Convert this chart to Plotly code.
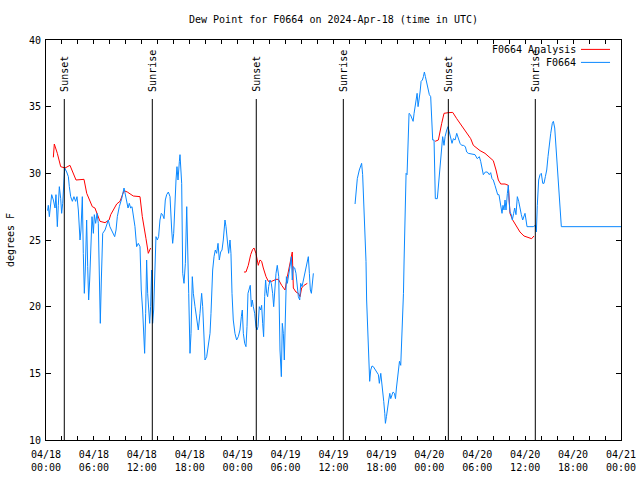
import pandas as pd
import plotly.graph_objects as go

BASE = "2024-04-18 00:00"

# Observed dew point (F0664), hours since 2024-04-18 00:00 UTC; None marks a data gap
obs_hours = [
    0.2, 0.29, 0.42, 0.71, 0.92, 1.13, 1.25, 1.42, 1.54, 1.67, 1.84, 1.96, 2.09, 2.21, 2.34, 2.59, 2.8, 2.92,
    3.09, 3.3, 3.5, 3.71, 3.88, 4.05, 4.26, 4.38, 4.55, 4.67, 4.8, 4.92, 5.09, 5.22, 5.34, 5.47, 5.6, 5.76,
    5.93, 6.05, 6.22, 6.39, 6.55, 6.68, 6.8, 6.93, 7.1, 7.39, 7.6, 7.8, 8.0, 8.23, 8.43, 8.6, 8.77, 8.93,
    9.18, 9.48, 9.77, 9.93, 10.1, 10.27, 10.43, 10.6, 10.77, 10.93, 11.14, 11.35, 11.56, 11.77, 11.93, 12.1,
    12.23, 12.35, 12.48, 12.6, 12.73, 12.85, 12.98, 13.1, 13.23, 13.35, 13.48, 13.6, 13.77, 13.94, 14.1,
    14.27, 14.44, 14.6, 14.78, 14.94, 15.11, 15.32, 15.53, 15.74, 15.86, 15.99, 16.11, 16.28, 16.4, 16.53,
    16.7, 16.78, 16.99, 17.12, 17.28, 17.45, 17.62, 17.74, 17.87, 18.03, 18.16, 18.32, 18.45, 18.66, 18.87,
    19.07, 19.28, 19.49, 19.62, 19.75, 19.91, 20.12, 20.33, 20.54, 20.66, 20.79, 20.87, 21.04, 21.2, 21.37,
    21.54, 21.7, 21.87, 22.04, 22.2, 22.41, 22.54, 22.7, 22.87, 23.04, 23.16, 23.29, 23.45, 23.66, 23.87,
    24.08, 24.29, 24.46, 24.58, 24.71, 24.88, 25.04, 25.17, 25.29, 25.46, 25.58, 25.71, 25.83, 25.96, 26.13,
    26.29, 26.42, 26.55, 26.71, 26.88, 27.0, 27.13, 27.25, 27.38, 27.5, 27.63, 27.75, 27.88, 28.05, 28.21,
    28.38, 28.51, 28.63, 28.8, 28.96, 29.14, 29.3, 29.47, 29.59, 29.72, 29.84, 29.97, 30.1, 30.22, 30.39,
    30.55, 30.72, 30.84, 30.97, 31.14, 31.3, 31.43, 31.6, 31.77, 31.89, 32.06, 32.22, 32.39, 32.56, 32.72,
    32.85, 32.98, 33.1, 33.23, 33.35, 33.48,
    36.0,
    38.7, 38.82, 38.98, 39.23, 39.4, 39.52, 39.65, 39.81, 39.94, 40.07, 40.15, 40.28, 40.4, 40.53, 40.66,
    40.82, 40.99, 41.2, 41.41, 41.62, 41.74, 41.92, 42.04, 42.17, 42.29, 42.42, 42.5, 42.63, 42.75, 42.92,
    43.05, 43.17, 43.34, 43.46, 43.63, 43.76, 43.88, 44.01, 44.13, 44.26, 44.42, 44.55, 44.67, 44.76, 44.84,
    44.96, 45.09, 45.21, 45.34, 45.46, 45.63, 45.8, 45.97, 46.09, 46.22, 46.34, 46.47, 46.59, 46.72, 46.84,
    46.97, 47.13, 47.26, 47.38, 47.51, 47.63, 47.76, 47.88, 48.0, 48.17, 48.3, 48.42, 48.59, 48.67, 48.75,
    49.0, 49.13, 49.34, 49.55, 49.67, 49.84, 49.97, 50.18, 50.34, 50.5, 50.68, 50.84, 51.01, 51.22, 51.43,
    51.63, 51.84, 52.05, 52.26, 52.51, 52.68, 52.88, 53.3, 53.72, 54.0, 54.26, 54.43, 54.6, 54.76, 55.01,
    55.26, 55.51, 55.68, 55.85, 56.01, 56.22, 56.43, 56.56, 56.72, 56.85, 57.01, 57.1, 57.22, 57.35, 57.48,
    57.6, 57.77, 57.89, 57.98, 58.1, 58.27, 58.39, 58.56, 58.69, 58.85, 59.02, 59.19, 59.35, 59.52, 59.69,
    59.85, 59.98, 60.11, 60.23, 60.6, 61.02, 61.27, 61.4, 61.52, 61.69, 61.86, 62.02, 62.2, 62.36, 62.53,
    62.7, 62.86, 63.03, 63.2, 63.4, 63.53, 63.7, 63.87, 64.03, 64.2, 64.37, 64.53, 72.0,
]
obs_dewpt = [
    27.2, 27.6, 26.75, 28.4, 28.0, 27.4, 28.4, 26.0, 27.6, 29.0, 28.1, 27.0, 27.75, 29.6, 30.4, 30.1, 29.75, 29.0,
    28.25, 27.9, 28.25, 27.9, 28.25, 27.25, 25.0, 25.75, 28.25, 24.0, 21.0, 22.75, 26.5, 23.0, 20.5, 22.0, 24.5, 26.75,
    25.5, 26.9, 26.25, 27.0, 26.25, 21.0, 18.75, 22.0, 25.5, 25.75, 26.25, 26.5, 26.0, 25.75, 25.5, 25.25, 25.75, 26.75,
    27.5, 28.1, 28.9, 28.4, 28.0, 27.4, 27.75, 27.4, 27.5, 26.9, 26.0, 24.5, 24.75, 24.5, 21.25, 19.75,
    17.5, 16.5, 19.5, 23.5, 21.0, 20.0, 18.75, 20.0, 22.75, 18.75, 19.75, 22.0, 25.25, 25.0, 25.25,
    26.5, 27.0, 26.9, 26.6, 28.0, 28.4, 28.6, 28.25, 25.75, 24.75, 25.5, 27.5, 29.5, 30.5, 29.5,
    30.9, 31.4, 29.25, 22.5, 21.75, 23.25, 27.5, 25.0, 21.0, 16.5, 18.0, 22.25, 21.0, 20.0, 19.0,
    18.25, 19.5, 21.0, 20.0, 17.5, 16.0, 16.25, 17.0, 18.0, 19.5, 21.25, 22.75, 23.75, 24.25, 24.0,
    24.75, 23.5, 24.1, 24.25, 25.0, 26.5, 26.0, 25.0, 24.0, 25.0, 24.0, 21.0, 19.0, 18.0, 17.5,
    17.75, 18.25, 19.25, 19.75, 18.0, 17.25, 17.0, 18.5, 21.0, 21.5, 21.6, 20.0, 20.5, 20.0, 19.5,
    18.5, 18.25, 18.5, 20.0, 19.75, 20.1, 18.75, 17.75, 20.75, 22.0, 21.0, 20.75, 21.5, 22.0, 21.75,
    21.0, 20.0, 21.5, 22.5, 23.1, 22.25, 16.75, 14.75, 18.75, 18.0, 16.0, 20.75, 22.25, 21.75, 22.25,
    23.0, 23.75, 22.0, 23.0, 22.9, 22.5, 21.5, 20.75, 20.5, 21.75, 21.5, 22.0, 22.5, 23.0, 23.5,
    23.75, 22.5, 21.25, 21.0, 22.0, 22.5,
    None,
    27.7, 28.9, 29.6, 30.25, 30.6, 30.75, 29.9, 27.75, 25.75, 23.4, 20.5, 17.75, 15.5, 14.4, 15.25,
    15.55, 15.5, 15.25, 15.1, 14.9, 14.25, 15.0, 14.1, 13.75, 12.9, 12.0, 11.25, 11.75, 12.4, 13.0,
    13.5, 13.1, 13.4, 13.6, 13.5, 13.1, 13.9, 14.75, 15.5, 15.9, 15.6, 17.25, 19.0, 21.0, 23.5,
    27.0, 30.0, 29.9, 31.75, 34.5, 34.4, 34.1, 33.9, 34.5, 35.0, 35.6, 36.0, 35.0, 35.5, 36.1,
    36.9, 37.0, 37.25, 37.6, 37.25, 36.9, 36.5, 36.1, 35.9, 35.75, 34.5, 32.5, 32.5, 29.0, 28.1,
    28.1, 28.9, 30.75, 32.0, 32.75, 32.1, 32.75, 33.25, 33.5, 33.1, 32.6, 32.25, 32.6, 32.5, 33.0,
    32.6, 32.25, 32.1, 32.1, 32.0, 31.6, 31.5, 31.45, 31.4, 31.1, 31.25, 30.9, 30.25, 29.9, 30.1,
    30.1, 29.9, 30.05, 29.6, 29.5, 29.1, 28.75, 28.4, 28.4, 27.9, 27.25, 27.0, 27.6, 27.25, 28.0,
    27.25, 28.5, 29.1, 28.0, 27.1, 26.9, 26.5, 27.0, 27.4, 26.9, 28.25, 27.9, 27.25, 26.9, 26.5,
    26.75, 27.0, 26.5, 26.0, 26.0, 26.0, 26.1, 25.6, 27.6, 29.5, 29.9, 30.0, 29.25, 29.25, 29.75,
    30.25, 31.25, 32.4, 33.0, 33.75, 33.9, 33.4, 31.75, 30.5, 28.5, 27.0, 26.0, 26.0,
]

# Analysis dew point (F0664 Analysis); None marks a data gap
ana_hours = [
    0.92, 1.04, 1.42, 1.84, 2.38, 3.0, 3.76, 4.47, 4.76, 5.1, 5.8, 6.13, 6.76, 7.39, 7.9, 8.1, 8.85, 9.27,
    9.77, 10.18, 10.93, 11.77, 12.06, 12.52, 12.81, 13.1,
    19.0,
    24.79, 25.04, 25.33, 25.63, 25.88, 26.05, 26.29, 26.58, 26.79, 27.0, 27.21, 27.55, 27.84, 28.26, 28.8,
    29.1, 29.51, 29.93, 30.22, 30.47, 30.64, 30.84, 30.97, 31.3, 31.6, 31.81, 32.01, 32.31, 32.72,
    40.0,
    48.72, 49.13, 49.55, 49.84, 50.38, 50.93, 51.43, 51.84, 52.26, 52.8, 53.18, 53.51, 53.93, 54.35, 54.97,
    55.51, 56.01, 56.35, 56.64, 56.94, 57.48, 57.89, 57.98, 58.1, 58.44, 58.85, 59.35, 59.85, 60.39, 60.81, 61.1,
]
ana_dewpt = [
    31.2, 32.2, 31.5, 30.5, 30.4, 30.6, 29.5, 29.55, 29.55, 28.5, 27.5, 27.4, 26.4, 26.3, 26.5, 26.9, 27.7, 27.9,
    28.7, 28.6, 28.3, 28.25, 26.75, 25.1, 24.0, 24.4,
    None,
    22.6, 22.6, 23.1, 23.9, 24.3, 24.4, 24.0, 23.1, 23.5, 23.4, 22.9, 22.25, 21.9, 21.9, 22.05,
    22.05, 21.6, 21.25, 22.25, 22.9, 23.5, 24.1, 21.4, 21.1, 21.0, 20.75, 21.4, 21.6, 21.75,
    None,
    32.4, 32.5, 33.75, 34.5, 34.55, 34.57, 34.1, 33.75, 33.4, 33.0, 32.6, 32.1, 31.9, 31.7, 31.5,
    31.25, 30.95, 30.25, 29.5, 29.2, 29.2, 29.1, 28.4, 27.0, 26.5, 26.05, 25.6, 25.3, 25.2, 25.1, 25.3,
]

sun_hours = [2.29, 13.31, 26.33, 37.23, 50.38, 61.27]
sun_labels = ["Sunset", "Sunrise", "Sunset", "Sunrise", "Sunset", "Sunrise"]

legend_names = ["F0664 Analysis", "F0664"]
RED = "#ff0000"
BLUE = "#0a88ff"


def to_time(hours):
    return [(pd.Timestamp(BASE) + pd.Timedelta(hours=h)).strftime("%Y-%m-%d %H:%M:%S") for h in hours]


fig = go.Figure()
fig.add_trace(go.Scatter(x=to_time(ana_hours), y=ana_dewpt, mode="lines",
                         line=dict(color=RED, width=1), name=legend_names[0],
                         connectgaps=False, showlegend=False))
fig.add_trace(go.Scatter(x=to_time(obs_hours), y=obs_dewpt, mode="lines",
                         line=dict(color=BLUE, width=1), name=legend_names[1],
                         connectgaps=False, showlegend=False))

sun_times = to_time(sun_hours)
for t, lab in zip(sun_times, sun_labels):
    fig.add_shape(type="line", xref="x", yref="paper", x0=t, x1=t, y0=0, y1=0.8525,
                  line=dict(color="black", width=1))
    fig.add_annotation(x=t, xref="x", y=0.866, yref="paper", text=lab, textangle=-90,
                       showarrow=False, xanchor="center", yanchor="bottom",
                       font=dict(size=10, color="black"))

# gnuplot-style key: text right-aligned, line sample to its right
for i, (name, col) in enumerate(zip(legend_names, [RED, BLUE])):
    yk = 0.9765 - i * 0.0325
    fig.add_annotation(x=0.9255, xref="paper", y=yk, yref="paper", text=name,
                       showarrow=False, xanchor="right", yanchor="middle",
                       font=dict(size=10, color="black"))
    fig.add_shape(type="line", xref="paper", yref="paper", x0=0.9304, x1=0.9809,
                  y0=yk, y1=yk, line=dict(color=col, width=1))

fig.update_layout(
    width=640, height=480,
    margin=dict(l=46, r=19, t=40, b=40, autoexpand=False),
    paper_bgcolor="white", plot_bgcolor="white",
    font=dict(family="DejaVu Sans Mono, Liberation Mono, monospace", size=10, color="black"),
    title=dict(text="Dew Point for F0664 on 2024-Apr-18 (time in UTC)", x=0.5, xref="paper",
               y=1 - 19 / 480, yref="container", yanchor="middle", xanchor="center",
               font=dict(size=10)),
    showlegend=False,
)
fig.update_xaxes(
    type="date", range=[to_time([0])[0], to_time([72])[0]], automargin=False,
    tick0=to_time([0])[0], dtick=6 * 3600 * 1000, tickformat="%m/%d<br>%H:%M",
    ticks="inside", ticklen=4, tickcolor="black", ticklabelstandoff=5,
    showline=True, linecolor="black", linewidth=1, mirror="ticks",
    showgrid=False, zeroline=False,
    minor=dict(dtick=2 * 3600 * 1000, ticks="inside", ticklen=4, tickcolor="black", showgrid=False),
)
fig.update_yaxes(
    range=[10, 40], dtick=5, ticks="inside", ticklen=5, tickcolor="black", automargin=False,
    ticklabelstandoff=2,
    showline=True, linecolor="black", linewidth=1, mirror="ticks",
    showgrid=False, zeroline=False,
    title=dict(text="degrees F", standoff=12, font=dict(size=10)),
)

fig.write_html("out.html", config={"displayModeBar": False},
               post_script="document.body.style.margin='0';document.body.style.overflow='hidden';")
